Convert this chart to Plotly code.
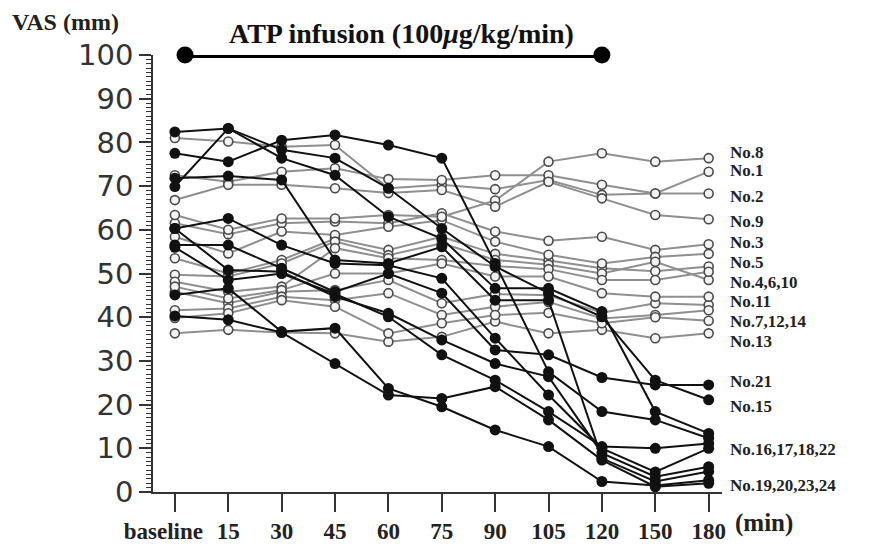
import plotly.graph_objects as go

time_labels = ["baseline", "15", "30", "45", "60", "75", "90", "105", "120", "150", "180"]

# Non-responders (grey, open circles)
no1 = [81.0, 80.2, 79.0, 79.4, 69.5, 70.3, 69.3, 71.4, 68.0, 68.3, 73.3]
no2 = [72.5, 71.0, 73.3, 74.1, 71.6, 71.4, 72.5, 72.5, 70.3, 68.3, 68.3]
no3 = [61.5, 59.0, 61.5, 61.9, 61.5, 63.8, 59.6, 57.5, 58.4, 55.4, 56.7]
no4 = [53.5, 50.0, 53.1, 58.0, 55.4, 58.4, 54.5, 53.0, 51.2, 50.5, 51.6]
no5 = [58.4, 54.6, 59.6, 58.8, 60.7, 62.2, 57.3, 54.3, 52.3, 53.8, 54.5]
no6 = [49.7, 49.3, 52.3, 57.3, 54.2, 56.9, 53.1, 52.0, 50.0, 52.7, 48.5]
no7 = [45.8, 43.2, 45.8, 46.2, 48.5, 43.2, 45.3, 45.0, 41.0, 43.2, 42.8]
no8 = [63.4, 60.0, 62.6, 62.6, 63.4, 63.0, 66.7, 75.6, 77.5, 75.6, 76.4]
no9 = [66.8, 70.3, 70.3, 69.5, 68.4, 69.1, 65.3, 71.0, 67.2, 63.4, 62.4]
no10 = [48.1, 45.8, 47.0, 55.8, 53.5, 53.1, 51.7, 51.0, 48.5, 48.5, 50.4]
no11 = [47.0, 44.3, 46.2, 50.0, 50.0, 52.3, 49.3, 49.3, 45.5, 44.7, 44.7]
no12 = [41.6, 42.0, 44.7, 43.9, 45.5, 40.5, 42.4, 43.5, 39.7, 40.5, 41.6]
no13 = [36.3, 37.1, 36.5, 36.3, 34.4, 35.5, 39.0, 36.3, 37.1, 35.2, 36.3]
no14 = [39.8, 40.9, 43.9, 42.4, 36.3, 38.6, 40.5, 41.0, 38.6, 40.0, 39.2]

# Responders (black, filled circles)
no15 = [82.4, 83.2, 78.3, 76.4, 69.5, 60.3, 51.6, 45.5, 40.1, 25.6, 21.1]
no16 = [69.9, 83.2, 76.4, 72.5, 63.0, 58.0, 46.6, 46.6, 41.3, 18.4, 13.4]
no17 = [77.5, 75.6, 80.5, 81.7, 79.4, 76.4, 52.3, 27.5, 18.4, 16.5, 12.3]
no18 = [56.0, 48.5, 50.0, 45.3, 40.1, 31.4, 25.6, 18.4, 10.4, 10.0, 11.1]
no19 = [60.3, 50.8, 50.4, 44.7, 40.9, 34.8, 29.4, 26.4, 8.9, 3.5, 5.8]
no20 = [71.8, 72.3, 71.4, 53.1, 52.3, 56.1, 43.9, 43.9, 7.7, 2.4, 4.7]
no21 = [56.5, 56.5, 51.2, 45.8, 50.0, 45.5, 32.5, 31.4, 26.2, 24.5, 24.5]
no22 = [60.3, 62.6, 56.5, 52.3, 51.9, 48.9, 35.2, 22.2, 10.0, 4.6, 10.0]
no23 = [45.1, 46.6, 36.7, 37.5, 23.7, 19.5, 14.2, 10.4, 2.4, 1.5, 2.7]
no24 = [40.3, 39.4, 36.5, 29.4, 22.2, 21.4, 24.1, 16.5, 7.3, 1.2, 2.0]

nonresponders = [no1, no2, no3, no4, no5, no6, no7, no8, no9, no10, no11, no12, no13, no14]
responders = [no15, no16, no17, no18, no19, no20, no21, no22, no23, no24]

end_labels = ["No.8", "No.1", "No.2", "No.9", "No.3", "No.5", "No.4,6,10", "No.11",
              "No.7,12,14", "No.13", "No.21", "No.15", "No.16,17,18,22", "No.19,20,23,24"]
end_label_y = [77.8, 73.6, 67.7, 62.0, 57.2, 52.6, 48.0, 43.6, 39.0, 34.5, 25.4, 19.5, 9.8, 1.6]

infusion_x = [0.19, 8]
infusion_y = [100, 100]

xpos = list(range(len(time_labels)))
tick_text = ["<b>" + time_labels[0] + "</b>&nbsp;&nbsp;&nbsp;&nbsp;"] + \
            ["<b>" + t + "</b>" for t in time_labels[1:]]

fig = go.Figure()

for s in nonresponders:
    fig.add_trace(go.Scatter(
        x=xpos, y=s, mode="lines+markers", cliponaxis=False,
        line=dict(color="#8f8f8f", width=2),
        marker=dict(symbol="circle", size=9, color="#f4f4f4",
                    line=dict(color="#4a4a4a", width=1.6)),
        hoverinfo="skip"))

for s in responders:
    fig.add_trace(go.Scatter(
        x=xpos, y=s, mode="lines+markers", cliponaxis=False,
        line=dict(color="#111111", width=2),
        marker=dict(symbol="circle", size=11, color="#111111"),
        hoverinfo="skip"))

fig.add_trace(go.Scatter(
    x=infusion_x, y=infusion_y, mode="lines+markers", cliponaxis=False,
    line=dict(color="black", width=6),
    marker=dict(symbol="circle", size=17, color="black"),
    hoverinfo="skip"))

serif = "Liberation Serif"
annotations = []
for t, yv in zip(end_labels, end_label_y):
    annotations.append(dict(x=1.0105, y=yv, xref="paper", yref="y", text="<b>" + t + "</b>",
                            showarrow=False, xanchor="left", yanchor="middle",
                            font=dict(family=serif, size=17, color="#222")))

annotations.append(dict(x=-0.2513, y=1.075, xref="paper", yref="paper", text="<b>VAS (mm)</b>",
                        showarrow=False, xanchor="left", yanchor="middle",
                        font=dict(family=serif, size=24, color="#222")))
annotations.append(dict(x=0.4376, y=1.05, xref="paper", yref="paper",
                        text="<b>ATP infusion (100<i>μ</i>g/kg/min)</b>",
                        showarrow=False, xanchor="center", yanchor="middle",
                        font=dict(family=serif, size=28, color="#111")))
annotations.append(dict(x=1.019, y=-0.071, xref="paper", yref="paper", text="<b>(min)</b>",
                        showarrow=False, xanchor="left", yanchor="middle",
                        font=dict(family=serif, size=25, color="#222")))

fig.update_layout(
    width=861, height=538,
    margin=dict(l=145, r=147, t=47, b=54, autoexpand=False),
    plot_bgcolor="white", paper_bgcolor="white",
    showlegend=False,
    annotations=annotations,
    xaxis=dict(range=[-0.41, 10.25], tickmode="array", tickvals=xpos,
               ticktext=tick_text,
               tickangle=0, automargin=False,
               ticks="outside", ticklen=18, tickwidth=1.5, tickcolor="#333",
               showline=True, linecolor="#333", linewidth=1.5,
               showgrid=False, zeroline=False,
               tickfont=dict(family=serif, size=23, color="#222")),
    yaxis=dict(range=[0, 100], dtick=10, tick0=0, automargin=False,
               ticks="outside", ticklen=12, tickwidth=1.5, tickcolor="#333",
               minor=dict(dtick=1, ticklen=5, ticks="outside", tickcolor="#333", tickwidth=1),
               showline=True, linecolor="#333", linewidth=1.5,
               showgrid=False, zeroline=False,
               tickfont=dict(family="DejaVu Sans", size=29, color="#333")),
)

fig.write_html("out.html")
